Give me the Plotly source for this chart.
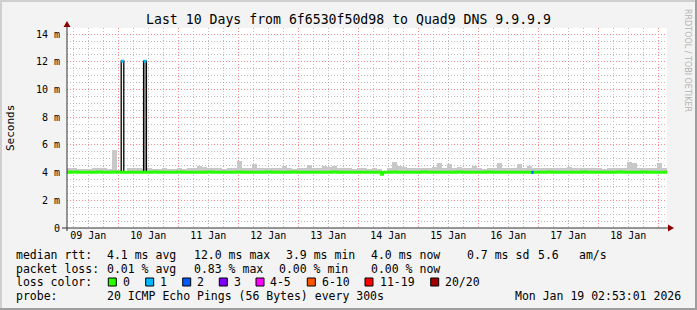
import pandas as pd
import plotly.graph_objects as go

# ---------------- data ----------------
T_START = "2026-01-09 03:30"
T_END = "2026-01-19 03:30"
BIN_HOURS = 2

smoke_floor = 3.96
smoke_top = [
    4.30, 4.35, 4.27, 4.25, 4.29, 4.31, 4.35, 4.33, 4.25, 5.60,
    4.20, 4.15, 4.30, 4.35, 4.35, 4.27, 4.33, 4.29, 4.27, 4.35,
    4.29, 4.25, 4.33, 4.27, 4.30, 4.35, 4.45, 4.40, 4.30, 4.33,
    4.35, 4.27, 4.30, 4.33, 4.83, 4.35, 4.30, 4.62, 4.37, 4.35,
    4.33, 4.30, 4.35, 4.45, 4.30, 4.27, 4.35, 4.33, 4.55, 4.35,
    4.30, 4.50, 4.40, 4.45, 4.33, 4.30, 4.35, 4.27, 4.30, 4.33,
    4.27, 4.30, 4.25, 4.15, 4.35, 4.79, 4.45, 4.40, 4.33, 4.37,
    4.35, 4.30, 4.33, 4.40, 4.71, 4.35, 4.60, 4.33, 4.40, 4.35,
    4.33, 4.50, 4.30, 4.27, 4.33, 4.35, 4.67, 4.30, 4.35, 4.33,
    4.60, 4.35, 4.50, 4.30, 4.33, 4.37, 4.30, 4.35, 4.33, 4.30,
    4.38, 4.30, 4.33, 4.30, 4.35, 4.33, 4.30, 4.27, 4.33, 4.35,
    4.30, 4.35, 4.79, 4.70, 4.35, 4.33, 4.37, 4.33, 4.71, 4.30,
]
median_rtt = [
    4.02, 4.05, 4.02, 4.02, 4.02, 4.02, 4.04, 4.02, 4.02, 4.05,
    4.02, 4.02, 4.02, 4.02, 4.02, 4.02, 4.02, 4.04, 4.02, 4.02,
    4.02, 4.02, 4.04, 4.02, 4.02, 4.02, 4.02, 4.02, 4.04, 4.02,
    4.02, 4.02, 4.02, 4.02, 4.04, 4.02, 4.02, 4.02, 4.02, 4.02,
    4.04, 4.02, 4.02, 4.02, 4.02, 4.05, 4.02, 4.02, 4.02, 4.02,
    4.02, 4.02, 4.02, 4.04, 4.02, 4.02, 4.02, 4.02, 4.02, 4.02,
    4.02, 4.02, 4.02, 4.02, 4.02, 4.04, 4.02, 4.02, 4.02, 4.02,
    4.02, 4.04, 4.02, 4.02, 4.02, 4.02, 4.02, 4.02, 4.04, 4.02,
    4.02, 4.02, 4.02, 4.02, 4.04, 4.02, 4.02, 4.02, 4.02, 4.02,
    4.02, 4.02, 4.02, 4.02, 4.02, 4.02, 4.04, 4.02, 4.02, 4.02,
    4.02, 4.02, 4.02, 4.04, 4.02, 4.02, 4.02, 4.02, 4.02, 4.02,
    4.04, 4.02, 4.02, 4.02, 4.02, 4.05, 4.02, 4.02, 4.02, 4.02,
]

event_start = ["2026-01-10 01:11", "2026-01-10 10:08", "2026-01-14 09:18", "2026-01-16 21:18"]
event_end = ["2026-01-10 02:13", "2026-01-10 11:16", "2026-01-14 09:42", "2026-01-16 22:06"]
event_value = [12.05, 12.05, 3.88, 4.02]
event_loss = [1, 1, 0, 2]
event_smoke_top = [None, 12.0, None, None]

loss_labels = ["0", "1", "2", "3", "4-5", "6-10", "11-19", "20/20"]
loss_class_min = [0, 1, 2, 3, 4, 6, 11, 20]
loss_colors = ["#26ff00", "#00b8ff", "#0059ff", "#7e00ff", "#ff00ff", "#ff5500", "#ff0000", "#a10000"]

y_tick_vals = [0, 2, 4, 6, 8, 10, 12, 14]
y_tick_text = ["0", "2 m", "4 m", "6 m", "8 m", "10 m", "12 m", "14 m"]

title_text = "Last 10 Days from 6f6530f50d98 to Quad9 DNS 9.9.9.9"
row_rtt = ["median rtt:", "4.1 ms avg", "12.0 ms max", "3.9 ms min", "4.0 ms now", "0.7 ms sd", "5.6", "am/s"]
row_loss = ["packet loss:", "0.01 % avg", "0.83 % max", "0.00 % min", "0.00 % now"]
row_color_label = "loss color:"
row_probe = ["probe:", "20 ICMP Echo Pings (56 Bytes) every 300s"]
stamp_text = "Mon Jan 19 02:53:01 2026"
watermark = "RRDTOOL / TOBI OETIKER"

# ---------------- layout geometry ----------------
W, H = 697, 310
L, R, TOP, BOT = 67, 667, 28, 228
MONO = "DejaVu Sans Mono"


def px(x):
    return (x - L) / (R - L)


def py(y):
    return (BOT - y) / (BOT - TOP)


T0 = pd.Timestamp(T_START)
T1 = pd.Timestamp(T_END)
BIN = pd.Timedelta(hours=BIN_HOURS)
N = len(smoke_top)
bin_start = [T0 + BIN * k for k in range(N)]
bin_center = [t + BIN / 2 for t in bin_start]
events = [(pd.Timestamp(s), pd.Timestamp(e), v, l, st)
          for s, e, v, l, st in zip(event_start, event_end, event_value, event_loss, event_smoke_top)]


def loss_class(loss):
    c = 0
    for i, m in enumerate(loss_class_min):
        if loss >= m:
            c = i
    return c


def step_path(evs):
    bps = set(bin_start + [T0 + BIN * N])
    for s, e, *_ in evs:
        bps.add(s)
        bps.add(e)
    bps = sorted(bps)
    xs, ys = [], []
    for a, b in zip(bps[:-1], bps[1:]):
        mid = a + (b - a) / 2
        k = min(N - 1, int((mid - T0) / BIN))
        v = median_rtt[k]
        for s, e, ev, *_ in evs:
            if s <= mid < e:
                v = ev
        xs.append(a)
        ys.append(v)
    xs.append(bps[-1])
    ys.append(ys[-1])
    return xs, ys


fig = go.Figure()

# smoke
bin_ms = BIN_HOURS * 3600 * 1000
fig.add_trace(go.Bar(
    x=bin_center, y=[t - smoke_floor for t in smoke_top], base=smoke_floor,
    width=bin_ms, marker=dict(color="#c8c8c8", line=dict(width=0)),
    hoverinfo="skip", showlegend=False))

# event smoke
for s, e, v, l, st in events:
    if st is not None:
        fig.add_trace(go.Bar(
            x=[s + (e - s) / 2], y=[st - 4.02], base=4.02,
            width=(e - s).total_seconds() * 1000,
            marker=dict(color="#a0a0a0", line=dict(width=0)),
            hoverinfo="skip", showlegend=False))

# black median outline
bx, by = step_path(events)
fig.add_trace(go.Scatter(x=bx, y=by, mode="lines", line=dict(color="#000000", width=1.3, shape="hv"),
                         hoverinfo="skip", showlegend=False))

# green median (loss 0)
gx, gy = step_path([ev for ev in events if ev[3] == 0])
fig.add_trace(go.Scatter(x=gx, y=gy, mode="lines", line=dict(color=loss_colors[0], width=3, shape="hv"),
                         hoverinfo="skip", showlegend=False))

# loss-coloured caps
for s, e, v, l, st in events:
    if l != 0:
        fig.add_trace(go.Scatter(x=[s, e], y=[v, v], mode="lines",
                                 line=dict(color=loss_colors[loss_class(l)], width=3),
                                 hoverinfo="skip", showlegend=False))

shapes = []
# frame
shapes.append(dict(type="rect", xref="paper", yref="paper", x0=px(0), x1=px(2), y0=py(H), y1=py(0),
                   line=dict(width=0), fillcolor="#cfcfcf"))
shapes.append(dict(type="rect", xref="paper", yref="paper", x0=px(0), x1=px(W), y0=py(2), y1=py(0),
                   line=dict(width=0), fillcolor="#cfcfcf"))
shapes.append(dict(type="rect", xref="paper", yref="paper", x0=px(W - 2), x1=px(W), y0=py(H), y1=py(0),
                   line=dict(width=0), fillcolor="#9e9e9e"))
shapes.append(dict(type="rect", xref="paper", yref="paper", x0=px(0), x1=px(W), y0=py(H), y1=py(H - 2),
                   line=dict(width=0), fillcolor="#9e9e9e"))
# axis lines
shapes.append(dict(type="line", xref="paper", yref="paper", x0=px(67), x1=px(67), y0=py(231), y1=py(25),
                   line=dict(color="#333333", width=1)))
shapes.append(dict(type="line", xref="paper", yref="paper", x0=px(62), x1=px(670), y0=py(228), y1=py(228),
                   line=dict(color="#333333", width=1)))
# arrows
shapes.append(dict(type="path", xref="paper", yref="paper",
                   path=f"M {px(67)} {py(21)} L {px(63.5)} {py(27)} L {px(70.5)} {py(27)} Z",
                   line=dict(width=0), fillcolor="#8b0000"))
shapes.append(dict(type="path", xref="paper", yref="paper",
                   path=f"M {px(674)} {py(228)} L {px(668)} {py(224.5)} L {px(668)} {py(231.5)} Z",
                   line=dict(width=0), fillcolor="#8b0000"))

annotations = []


def text(x, y, s, size=11.5, anchor="left", color="#000000", family=MONO, angle=0):
    annotations.append(dict(xref="paper", yref="paper", x=px(x), y=py(y), text=s, showarrow=False,
                            xanchor=anchor, yanchor="middle", textangle=angle,
                            borderpad=0, borderwidth=0,
                            font=dict(family=family, size=size, color=color)))


text(348, 19, title_text, size=13.2, anchor="center")
text(10, 128, "Seconds", size=11, anchor="center", angle=-90)
text(688, 60, watermark, size=8, anchor="center", color="#b4b4b4", family="DejaVu Sans", angle=90)

rtt_x = [15.5, 106.5, 193.5, 285.5, 371.5, 467, 537.5, 579]
for s, x in zip(row_rtt, rtt_x):
    text(x, 255, s)
loss_x = [15.5, 106.5, 193.5, 278.5, 371.5]
for s, x in zip(row_loss, loss_x):
    text(x, 268.5, s)
text(15.5, 282, row_color_label)
box_x = [108.3, 145.7, 182.7, 219.3, 256, 307.3, 365, 430.7]
lab_x = [122.8, 160.2, 196.8, 233.8, 270.2, 321.5, 379.5, 444.8]
for lab, col, bx0, lx in zip(loss_labels, loss_colors, box_x, lab_x):
    shapes.append(dict(type="rect", xref="paper", yref="paper", x0=px(bx0), x1=px(bx0 + 8),
                       y0=py(286), y1=py(278), line=dict(color="#000000", width=1), fillcolor=col))
    text(lx, 282, lab)
text(15.5, 296, row_probe[0])
text(106.5, 296, row_probe[1])
text(680.5, 296, stamp_text, anchor="right")

fig.update_layout(
    width=W, height=H, autosize=False,
    margin=dict(l=L, r=W - R, t=TOP, b=H - BOT, pad=0),
    paper_bgcolor="#f3f3f3", plot_bgcolor="#ffffff",
    barmode="overlay", bargap=0, showlegend=False,
    shapes=shapes, annotations=annotations,
    xaxis=dict(type="date", range=[T0, T1], tick0="2026-01-10", dtick=86400000,
               ticklabelmode="period", tickformat="%d %b", ticks="",
               showgrid=True, gridcolor="#ff8c8c", griddash="1px,2px", gridwidth=1,
               minor=dict(dtick=6 * 3600 * 1000, showgrid=True, gridcolor="#bdbdbd", griddash="1px,2px"),
               zeroline=False, showline=False, fixedrange=True,
               tickfont=dict(family=MONO, size=10, color="#000000")),
    yaxis=dict(range=[0, 14.45], tickvals=y_tick_vals, ticktext=y_tick_text, ticks="",
               showgrid=True, gridcolor="#ff8c8c", griddash="1px,2px", gridwidth=1,
               minor=dict(dtick=0.5, tick0=0, showgrid=True, gridcolor="#bdbdbd", griddash="1px,2px"),
               zeroline=False, showline=False, fixedrange=True, ticklabelstandoff=6,
               tickfont=dict(family=MONO, size=10, color="#000000")),
)

fig.write_html("out.html")
